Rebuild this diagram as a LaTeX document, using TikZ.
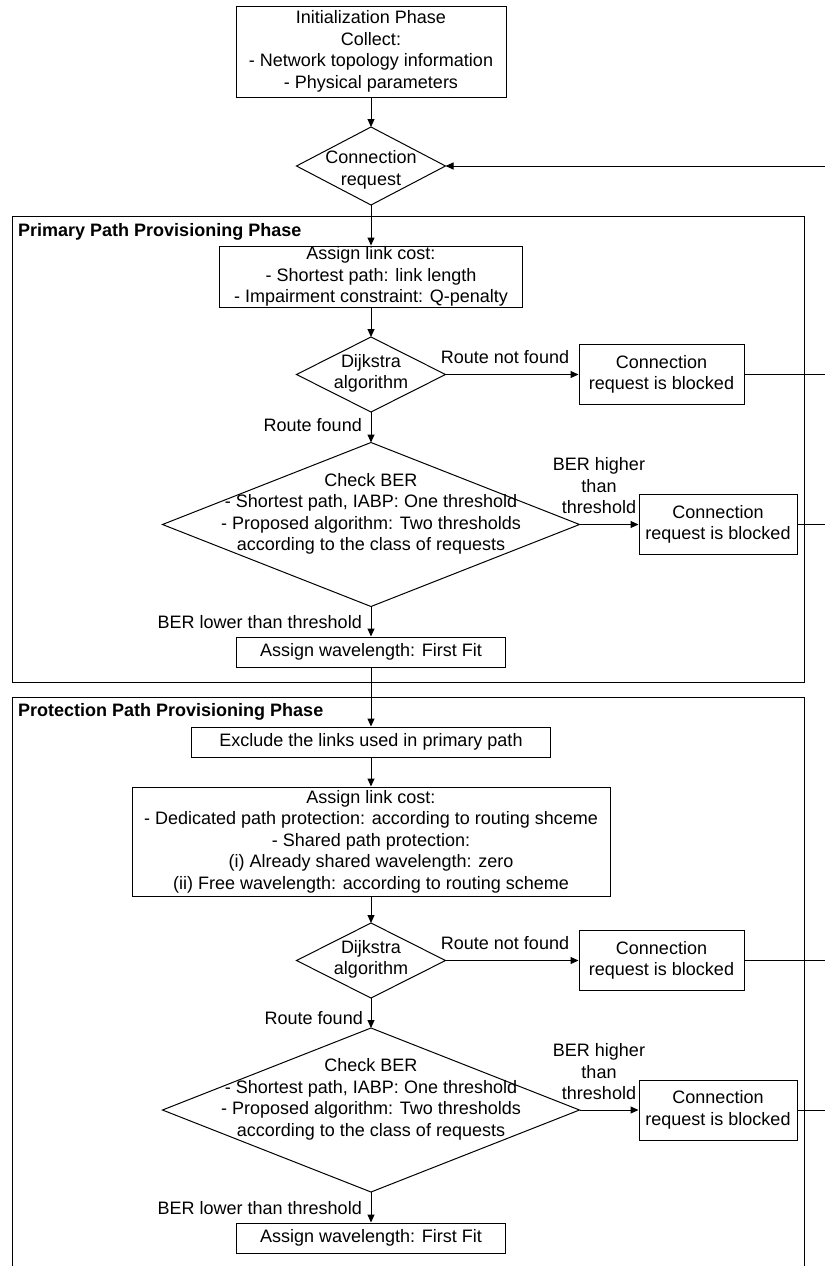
\documentclass[tikz,border=0pt]{standalone}
\usepackage{fontspec}
\setmainfont{Liberation Sans}
\usetikzlibrary{shapes.geometric,arrows.meta}
\begin{document}
\begin{tikzpicture}[x=1pt,y=-1pt,
  every node/.style={font=\fontsize{18}{21.5}\selectfont},
  box/.style={draw,line width=1pt,rectangle,inner sep=0pt,align=center},
  dia/.style={draw,line width=1pt,diamond,inner sep=0pt,outer sep=0pt},
  lbl/.style={inner sep=0pt,align=center},
  arr/.style={line width=1pt,-{Triangle[length=8pt,width=7pt]}},
  ln/.style={line width=1pt},
  frm/.style={draw,line width=1pt},
  ttl/.style={font=\fontsize{18}{21.5}\selectfont\bfseries,inner sep=0pt,anchor=west}]
\useasboundingbox (0,0) rectangle (825,1266);
\clip (0,0) rectangle (825,1266);

% frames
\draw[frm] (12,216) rectangle (804,682);
\draw[frm] (12,697) rectangle (804,1300);
\node[ttl] (t1) at (18,232) {Primary Path Provisioning Phase};
\node[ttl] (t2) at (18,712) {Protection Path Provisioning Phase};

% initialization
\node[box,minimum width=270pt,minimum height=91pt] (init) at (371,51.5)
  {Initialization Phase\\Collect:\\- Network topology information\\- Physical parameters};
\node[dia,minimum width=149pt,minimum height=78pt] (conn) at (371,166) {};
\node[lbl] (connT) at (371,170) {Connection\\request};

% primary
\node[box,minimum width=303pt,minimum height=61pt] (cost1) at (371,276.5)
  {Assign link cost:\\- Shortest path: link length\\- Impairment constraint: Q-penalty};
\node[dia,minimum width=149pt,minimum height=75pt] (dij1) at (371,374.5) {};
\node[lbl] (dij1T) at (371,373.5) {Dijkstra\\algorithm};
\node[box,minimum width=165pt,minimum height=60pt] (blk1) at (661.5,374.5) {Connection\\request is blocked};
\node[dia,minimum width=417pt,minimum height=164pt] (ber1) at (371,524.5) {};
\node[lbl] (ber1T) at (371,514) {Check BER\\- Shortest path, IABP: One threshold\\- Proposed algorithm: Two thresholds\\according to the class of requests};
\node[box,minimum width=158pt,minimum height=60pt] (blk2) at (718,524.5) {Connection\\request is blocked};
\node[box,minimum width=269pt,minimum height=30pt] (wl1) at (371,652) {Assign wavelength: First Fit};

% protection
\node[box,minimum width=359pt,minimum height=30pt] (excl) at (371,742) {Exclude the links used in primary path};
\node[box,minimum width=478pt,minimum height=109pt] (cost2) at (371,841.5)
  {Assign link cost:\\- Dedicated path protection: according to routing shceme\\- Shared path protection:\\(i) Already shared wavelength: zero\\(ii) Free wavelength: according to routing scheme};
\node[dia,minimum width=149pt,minimum height=75pt] (dij2) at (371,960.5) {};
\node[lbl] (dij2T) at (371,959.5) {Dijkstra\\algorithm};
\node[box,minimum width=165pt,minimum height=60pt] (blk3) at (661.5,960.5) {Connection\\request is blocked};
\node[dia,minimum width=417pt,minimum height=164pt] (ber2) at (371,1110) {};
\node[lbl] (ber2T) at (371,1099.5) {Check BER\\- Shortest path, IABP: One threshold\\- Proposed algorithm: Two thresholds\\according to the class of requests};
\node[box,minimum width=158pt,minimum height=60pt] (blk4) at (718,1110) {Connection\\request is blocked};
\node[box,minimum width=269pt,minimum height=30pt] (wl2) at (371,1238) {Assign wavelength: First Fit};

% labels
\node[lbl] (l1) at (505,357) {Route not found};
\node[lbl,anchor=east] (l2) at (362,425) {Route found};
\node[lbl] (l3) at (599,486) {BER higher\\than\\threshold};
\node[lbl,anchor=east] (l4) at (362,622) {BER lower than threshold};
\node[lbl] (l5) at (505,943) {Route not found};
\node[lbl,anchor=east] (l6) at (363,1018) {Route found};
\node[lbl] (l7) at (599,1072) {BER higher\\than\\threshold};
\node[lbl,anchor=east] (l8) at (362,1208) {BER lower than threshold};

% exits
\coordinate (fb) at (825,166);
\coordinate (e1) at (825,374.5);
\coordinate (e2) at (825,524.5);
\coordinate (e3) at (825,960.5);
\coordinate (e4) at (825,1110);

% connectors
\draw[arr] (init.south) -- (conn.north);
\draw[arr] (fb) -- (conn.east);
\draw[arr] (conn.south) -- (cost1.north);
\draw[arr] (cost1.south) -- (dij1.north);
\draw[arr] (dij1.east) -- (blk1.west);
\draw[arr] (dij1.south) -- (ber1.north);
\draw[arr] (ber1.east) -- (blk2.west);
\draw[arr] (ber1.south) -- (wl1.north);
\draw[arr] (wl1.south) -- (excl.north);
\draw[arr] (excl.south) -- (cost2.north);
\draw[arr] (cost2.south) -- (dij2.north);
\draw[arr] (dij2.east) -- (blk3.west);
\draw[arr] (dij2.south) -- (ber2.north);
\draw[arr] (ber2.east) -- (blk4.west);
\draw[arr] (ber2.south) -- (wl2.north);
\draw[ln] (blk1.east) -- (e1);
\draw[ln] (blk2.east) -- (e2);
\draw[ln] (blk3.east) -- (e3);
\draw[ln] (blk4.east) -- (e4);
\end{tikzpicture}
\end{document}
